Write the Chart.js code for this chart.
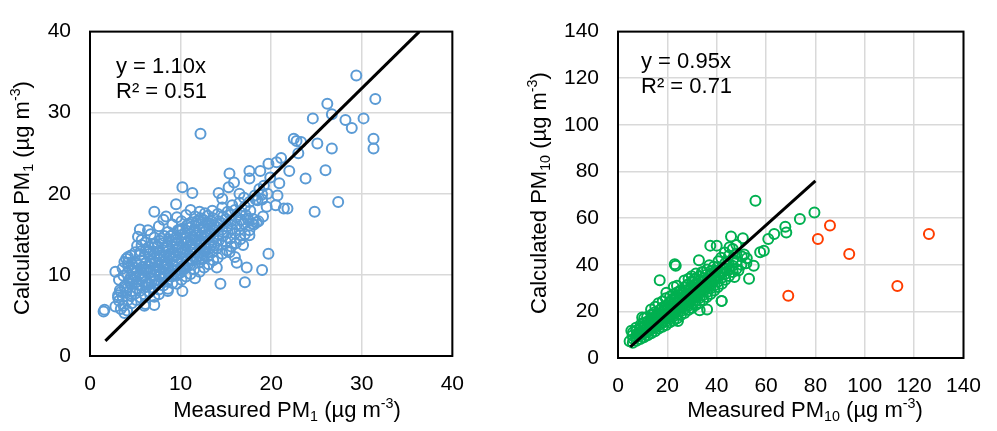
<!DOCTYPE html>
<html>
<head>
<meta charset="utf-8">
<script src="https://cdn.jsdelivr.net/npm/chart.js@4.4.1/dist/chart.umd.min.js"></script>
<style>
  body { margin: 0; background: #fff; }
  #wrap { position: relative; width: 997px; height: 431px; }
  .box { position: absolute; top: 0; }
</style>
</head>
<body>
<div id="wrap">
  <div class="box" style="left:0;width:480px;height:431px"><canvas id="pm1Chart" width="480" height="431"></canvas></div>
  <div class="box" style="left:490px;width:507px;height:431px"><canvas id="pm10Chart" width="507" height="431"></canvas></div>
</div>
<script>
// axis ranges [min, max, step]
const pm1Range = [0, 40, 10];
const pm10Range = [0, 140, 20];

// fitted lines (end points)
const pm1Fit = [[1.7, 1.87], [36.36, 40]];
const pm10Fit = [[5, 4.75], [80, 76]];

const pm1Equation = ['y = 1.10x', 'R² = 0.51'];
const pm10Equation = ['y = 0.95x', 'R² = 0.71'];

// measured vs calculated PM1
const pm1Points = [
  [29.4,34.6],[31.5,31.7],[26.2,31.1],[26.7,29.8],[24.6,29.3],[28.2,29.1],[30.2,29.3],[28.9,28.1],[31.3,26.8],[31.3,25.6],
  [25.1,26.2],[26.7,25.6],[22.5,26.8],[22.8,26.5],[23.3,26.4],[23.0,25.0],[26.0,22.9],[23.8,21.9],[22.0,22.8],[27.4,19.0],
  [24.8,17.8],[12.2,27.4],[21.1,24.4],[20.6,23.9],[19.7,23.7],[17.6,22.8],[15.4,22.5],[18.8,22.8],[20.9,21.3],[19.9,22.0],
  [17.6,21.9],[15.9,21.4],[15.3,20.8],[10.2,20.8],[11.3,20.1],[20.7,19.8],[19.6,20.0],[20.5,18.6],[21.4,18.2],[21.8,18.2],
  [19.5,18.4],[19.0,19.3],[18.3,19.3],[17.6,19.0],[16.5,20.0],[14.2,20.1],[14.6,19.4],[9.5,18.7],[7.1,17.8],[8.4,17.2],
  [19.7,12.6],[19.0,10.6],[17.3,10.9],[17.1,9.1],[14.4,8.9],[14.0,10.9],[16.2,11.5],[16.6,14.9],[17.6,14.9],[17.9,16.3],
  [17.4,17.0],[18.4,16.5],[15.4,12.8],[16.0,12.2],[16.9,13.7],[10.2,8.0],[8.6,8.0],[7.6,7.6],[7.1,6.3],[6.0,6.2],
  [1.6,5.7],[1.5,5.5],[2.8,6.1],[3.1,7.2],[2.8,10.4],[3.4,5.8],[3.8,5.3],[3.4,7.9],[4.2,12.2],[4.2,11.5],
  [5.5,15.6],[5.3,14.7],[6.4,15.5],[5.7,13.7],[5.6,12.9],
  [3.2,6.8],[3.3,8.1],[3.2,9.4],[3.1,7.5],
  [3.7,6.2],[3.6,7.3],[3.8,8.6],[3.7,9.9],[3.6,10.8],[3.8,11.6],
  [4.1,5.6],[4.2,6.9],[4.0,7.8],[4.1,8.4],[4.3,9.3],[4.1,10.2],[4.2,11.1],[4.0,12.0],
  [4.6,6.5],[4.5,7.4],[4.7,8.0],[4.6,8.9],[4.5,9.7],[4.7,10.6],[4.6,11.3],[4.5,12.4],
  [5.1,6.9],[5.0,7.7],[5.2,8.3],[5.1,9.1],[5.0,9.8],[5.2,10.4],[5.1,11.5],[5.0,12.8],[5.2,13.6],
  [5.6,7.2],[5.5,8.0],[5.7,8.7],[5.6,9.5],[5.5,10.1],[5.7,10.9],[5.6,11.8],[5.5,12.5],[5.7,14.3],
  [6.1,6.4],[6.0,7.6],[6.2,8.5],[6.1,9.2],[6.0,9.9],[6.2,10.7],[6.1,11.4],[6.0,12.2],[6.2,13.1],[6.1,14.0],
  [6.6,7.9],[6.5,8.8],[6.7,9.6],[6.6,10.3],[6.5,11.0],[6.7,11.7],[6.6,12.6],[6.5,13.4],[6.7,15.0],
  [7.1,7.3],[7.0,8.4],[7.2,9.3],[7.1,10.0],[7.0,10.8],[7.2,11.5],[7.1,12.1],[7.0,12.9],[7.2,13.8],[7.1,14.6],
  [7.6,8.2],[7.5,9.0],[7.7,9.8],[7.6,10.6],[7.5,11.2],[7.7,11.9],[7.6,12.7],[7.5,13.5],[7.7,14.2],[7.6,16.0],
  [8.1,8.7],[8.0,9.5],[8.2,10.2],[8.1,11.0],[8.0,11.6],[8.2,12.3],[8.1,13.0],[8.0,13.9],[8.2,14.8],[8.1,16.8],
  [8.6,8.3],[8.5,9.2],[8.7,10.0],[8.6,10.8],[8.5,11.5],[8.7,12.2],[8.6,12.9],[8.5,13.6],[8.7,14.4],[8.6,15.3],
  [9.1,9.0],[9.0,9.8],[9.2,10.6],[9.1,11.3],[9.0,12.0],[9.2,12.8],[9.1,13.5],[9.0,14.1],[9.2,15.0],[9.1,16.2],
  [9.6,8.9],[9.5,9.9],[9.7,10.7],[9.6,11.6],[9.5,12.4],[9.7,13.1],[9.6,13.8],[9.5,14.6],[9.7,15.5],[9.6,17.1],
  [10.1,9.4],[10.0,10.3],[10.2,11.1],[10.1,11.9],[10.0,12.6],[10.2,13.3],[10.1,14.0],[10.0,14.9],[10.2,15.7],[10.1,16.6],
  [10.6,9.8],[10.5,10.8],[10.7,11.7],[10.6,12.5],[10.5,13.2],[10.7,13.9],[10.6,14.5],[10.5,15.2],[10.7,16.1],[10.6,17.4],
  [11.1,10.1],[11.0,11.2],[11.2,12.0],[11.1,12.8],[11.0,13.6],[11.2,14.3],[11.1,15.0],[11.0,15.8],[11.2,16.5],[11.1,18.0],
  [11.6,9.6],[11.5,10.7],[11.7,11.9],[11.6,12.7],[11.5,13.4],[11.7,14.2],[11.6,14.9],[11.5,15.6],[11.7,16.4],[11.6,17.2],
  [12.1,10.4],[12.0,11.5],[12.2,12.4],[12.1,13.3],[12.0,14.1],[12.2,14.8],[12.1,15.5],[12.0,16.3],[12.2,17.0],[12.1,17.8],
  [12.6,10.9],[12.5,12.0],[12.7,12.9],[12.6,13.7],[12.5,14.5],[12.7,15.3],[12.6,16.0],[12.5,16.8],[12.7,17.6],
  [13.1,11.3],[13.0,12.3],[13.2,13.2],[13.1,14.0],[13.0,14.9],[13.2,15.7],[13.1,16.4],[13.0,17.3],
  [13.6,11.8],[13.5,12.8],[13.7,13.6],[13.6,14.6],[13.5,15.4],[13.7,16.1],[13.6,17.0],[13.5,17.9],
  [14.1,12.1],[14.0,13.3],[14.2,14.2],[14.1,15.0],[14.0,15.9],[14.2,16.6],[14.1,17.5],
  [14.6,12.6],[14.5,13.7],[14.7,14.8],[14.6,15.6],[14.5,16.4],[14.7,17.2],[14.6,18.3],
  [15.1,13.0],[15.0,14.1],[15.2,15.2],[15.1,16.0],[15.0,16.9],[15.2,17.8],
  [15.6,13.5],[15.5,14.5],[15.7,15.7],[15.6,16.6],[15.5,17.4],[15.7,18.6],
  [16.1,13.9],[16.0,15.1],[16.2,16.2],[16.1,17.1],[16.0,18.0],
  [16.6,14.4],[16.5,15.6],[16.7,16.8],[16.6,17.7],[16.5,18.9],
  [17.1,15.0],[17.0,16.3],[17.2,17.4],[17.1,18.4],[17.0,19.5],
  [17.6,15.5],[17.5,16.7],[17.7,17.9],
  [18.1,16.2],[18.0,16.9],[18.2,19.8],
  [18.6,16.6],[18.5,19.2],[18.7,20.6],
  [19.1,17.2],[19.0,19.9],[19.2,21.0],
  [6.3,10.4],[6.8,11.3],[7.3,10.5],[7.8,12.4],[8.3,11.3],[8.8,12.6],[9.3,12.3],[9.8,13.4],[10.3,12.9],[10.8,14.2],
  [11.3,13.1],[11.8,15.3],[12.3,13.8],[12.8,14.9],[13.3,15.2],[6.4,12.9],[6.9,13.8],[7.4,12.3],[7.9,14.5],[8.4,13.3],
  [8.9,14.8],[9.4,14.3],[9.9,15.6],[10.4,14.6],[10.9,16.3],[11.4,14.6],[11.9,16.7],[12.4,15.9],[12.9,16.4],[13.4,16.6],
  [5.8,9.9],[6.3,8.9],[6.8,9.2],[7.3,8.9],[7.8,10.2],[8.3,9.8],[8.8,10.4],[9.3,11.1],[9.8,10.2],[10.3,10.9],
  [10.8,11.3],[11.3,11.8],[11.8,12.2],[12.3,11.9],[12.8,13.3],[13.3,13.6],[4.9,10.9],[5.4,11.2],[5.9,10.6],[4.4,9.0],
  [4.8,9.4],[5.3,8.8]
];

// measured vs calculated PM10
const pm10Points = [
  [55.7,67.4],[79.6,62.4],[73.7,59.6],[67.8,56.3],[68.2,53.8],[63.3,53.2],[60.9,51.0],[59.1,46.0],[57.6,45.4],[50.6,51.4],
  [45.8,52.1],[37.4,48.2],[40.0,48.2],[53.1,34.0],[55.0,39.6],[51.1,44.4],[47.2,34.7],[48.8,37.5],[42.0,24.5],[33.1,20.5],
  [36.1,20.8],[24.3,15.9],[16.9,33.3],[23.0,40.2],[23.4,39.6],[32.8,41.9],[4.7,7.2],[5.4,11.7],[9.8,17.4],
  [6.0,6.5],[6.2,8.2],[5.9,9.6],[6.1,11.0],
  [7.5,7.4],[7.4,8.9],[7.6,10.3],[7.5,11.8],[7.3,13.0],
  [9.0,8.1],[9.1,9.7],[8.9,11.2],[9.0,12.6],[9.2,14.3],
  [10.5,8.9],[10.4,10.4],[10.6,11.9],[10.5,13.5],[10.3,15.0],[10.6,17.0],
  [12.0,9.8],[12.1,11.3],[11.9,12.8],[12.0,14.2],[12.2,15.9],[11.8,17.6],
  [13.5,10.6],[13.4,12.2],[13.6,13.8],[13.5,15.3],[13.3,16.8],[13.7,18.7],[13.4,20.8],
  [15.0,11.5],[15.1,13.1],[14.9,14.6],[15.0,16.2],[15.2,17.9],[14.8,19.5],[15.1,22.0],
  [16.5,12.6],[16.4,14.0],[16.6,15.7],[16.5,17.3],[16.3,18.8],[16.7,20.4],[16.4,23.5],
  [18.0,13.4],[18.1,15.1],[17.9,16.6],[18.0,18.2],[18.2,19.9],[17.8,21.6],[18.1,24.3],
  [19.5,14.2],[19.4,15.8],[19.6,17.5],[19.5,19.2],[19.3,20.8],[19.7,22.5],[19.4,25.6],[19.6,28.0],
  [21.0,15.3],[21.1,16.9],[20.9,18.6],[21.0,20.3],[21.2,22.0],[20.8,23.8],[21.1,26.4],
  [22.5,16.1],[22.4,17.8],[22.6,19.5],[22.5,21.2],[22.3,22.9],[22.7,24.7],[22.4,27.3],[22.6,30.5],
  [24.0,17.0],[24.1,18.9],[23.9,20.6],[24.0,22.4],[24.2,24.1],[23.8,25.9],[24.1,28.2],[23.9,31.0],
  [25.5,18.4],[25.4,20.1],[25.6,21.8],[25.5,23.5],[25.3,25.3],[25.7,27.0],[25.4,29.1],
  [27.0,19.3],[27.1,21.1],[26.9,22.8],[27.0,24.6],[27.2,26.4],[26.8,28.1],[27.1,30.3],[26.9,33.2],
  [28.5,20.6],[28.4,22.3],[28.6,24.0],[28.5,25.8],[28.3,27.6],[28.7,29.4],[28.4,31.5],[28.6,34.0],
  [30.0,21.4],[30.1,23.4],[29.9,25.2],[30.0,27.0],[30.2,28.8],[29.8,30.6],[30.1,32.5],[29.9,35.1],
  [31.5,22.7],[31.4,24.5],[31.6,26.4],[31.5,28.2],[31.3,30.0],[31.7,31.9],[31.4,33.8],[31.6,36.2],
  [33.0,23.6],[33.1,25.8],[32.9,27.6],[33.0,29.5],[33.2,31.3],[32.8,33.0],[33.1,35.0],
  [34.5,24.9],[34.4,26.9],[34.6,28.9],[34.5,30.7],[34.3,32.6],[34.7,34.3],[34.4,36.9],
  [36.0,26.2],[36.1,28.3],[35.9,30.2],[36.0,32.0],[36.2,33.8],[35.8,35.7],[36.1,38.0],
  [37.5,27.5],[37.4,29.8],[37.6,31.6],[37.5,33.5],[37.3,35.2],[37.7,37.3],
  [39.0,28.9],[39.1,31.2],[38.9,33.1],[39.0,35.0],[39.2,37.0],[38.8,39.1],
  [40.5,30.4],[40.4,32.7],[40.6,34.8],[40.5,36.7],[40.3,38.9],[40.7,41.5],
  [42.0,24.4],[42.1,31.8],[41.9,34.3],[42.0,36.5],[42.2,38.6],[41.8,43.0],
  [43.5,33.6],[43.4,36.0],[43.6,38.3],[43.5,40.7],[43.3,45.2],
  [45.0,35.2],[45.1,37.8],[44.9,40.4],[45.0,44.0],[45.2,47.5],
  [46.5,36.9],[46.4,39.6],[46.6,42.1],[46.5,46.8],
  [48.0,38.2],[48.1,41.3],[47.9,44.7],[48.0,48.5],
  [50.0,40.0],[50.2,43.5],[52.0,40.6],[52.2,42.8],
  [11.0,13.8],[14.0,16.0],[17.0,18.5],[20.0,21.3],[23.0,23.8],[26.0,26.2],[29.0,28.7],[32.0,31.2],[35.0,33.5],[38.0,36.2],
  [12.5,12.0],[15.5,15.0],[18.5,17.0],[21.5,19.5],[24.5,22.0],[27.5,24.8],[30.5,27.2],[33.5,29.8],[36.5,32.5],[39.5,34.8],
  [13.0,16.3],[16.0,19.0],[19.0,22.0],[22.0,25.0],[25.0,28.4],[28.0,31.2],[31.0,34.0],[34.0,36.8],[37.0,39.8]
];

// PM10 points left out of the fit (red)
const pm10Excluded = [[69.0,26.7],[81.0,51.0],[85.9,56.8],[93.7,44.6],[113.2,30.9],[126.0,53.2]];

const FONT = 'Liberation Sans, Arial, sans-serif';

function toXY(list) {
  return list.map(p => ({x: p[0], y: p[1]}));
}

// draws text made of pieces, some of them sub/superscript
function drawRich(ctx, segs, cx, cy, size, vertical) {
  ctx.save();
  ctx.translate(cx, cy);
  if (vertical) ctx.rotate(-Math.PI / 2);
  ctx.fillStyle = '#000';
  ctx.textBaseline = 'middle';
  ctx.textAlign = 'left';
  let total = 0;
  for (const s of segs) {
    ctx.font = (s[1] ? size * 0.65 : size) + 'px ' + FONT;
    total += ctx.measureText(s[0]).width;
  }
  let x = -total / 2;
  for (const s of segs) {
    const sz = s[1] ? size * 0.65 : size;
    ctx.font = sz + 'px ' + FONT;
    let dy = 0;
    if (s[1] === -1) dy = size * 0.28;
    if (s[1] === 1) dy = -size * 0.3;
    ctx.fillText(s[0], x, dy);
    x += ctx.measureText(s[0]).width;
  }
  ctx.restore();
}

const framePlugin = {
  id: 'frameAndText',
  afterDraw(chart, args, opts) {
    const {ctx, chartArea} = chart;
    ctx.save();
    ctx.strokeStyle = '#000';
    ctx.lineWidth = 2;
    ctx.strokeRect(chartArea.left, chartArea.top, chartArea.right - chartArea.left, chartArea.bottom - chartArea.top);
    ctx.restore();

    drawRich(ctx, opts.xTitle.segs, opts.xTitle.cx, opts.xTitle.cy, 22, false);
    drawRich(ctx, opts.yTitle.segs, opts.yTitle.cx, opts.yTitle.cy, 22, true);

    ctx.save();
    ctx.fillStyle = '#000';
    ctx.font = '22px ' + FONT;
    ctx.textBaseline = 'middle';
    ctx.textAlign = 'left';
    opts.equation.forEach((line, i) => {
      ctx.fillText(line, opts.eqX, opts.eqY + i * 24.5);
    });
    ctx.restore();
  }
};

function makeChart(id, cfg) {
  const datasets = [
    {
      type: 'line',
      data: toXY(cfg.fit),
      borderColor: '#000',
      borderWidth: 3,
      pointRadius: 0,
      fill: false
    },
    {
      type: 'scatter',
      data: toXY(cfg.points),
      pointStyle: 'circle',
      pointRadius: 5,
      borderWidth: 2,
      borderColor: cfg.color,
      backgroundColor: 'rgba(0,0,0,0)'
    }
  ];
  if (cfg.extra) {
    datasets.push({
      type: 'scatter',
      data: toXY(cfg.extra),
      pointStyle: 'circle',
      pointRadius: 5,
      borderWidth: 2,
      borderColor: cfg.extraColor,
      backgroundColor: 'rgba(0,0,0,0)'
    });
  }
  const tickFont = {family: FONT, size: 21};
  return new Chart(document.getElementById(id).getContext('2d'), {
    type: 'scatter',
    data: {datasets: datasets},
    options: {
      responsive: false,
      animation: false,
      layout: {padding: {left: 0, top: cfg.top, right: cfg.right, bottom: 0}},
      plugins: {
        legend: {display: false},
        tooltip: {enabled: false},
        frameAndText: {
          xTitle: cfg.xTitle,
          yTitle: cfg.yTitle,
          equation: cfg.equation,
          eqX: cfg.eqX,
          eqY: cfg.eqY
        }
      },
      scales: {
        x: {
          type: 'linear',
          min: cfg.range[0], max: cfg.range[1],
          ticks: {stepSize: cfg.range[2], color: '#000', font: tickFont, padding: 16},
          grid: {color: '#D9D9D9', lineWidth: 1.5, drawTicks: false},
          border: {display: false},
          afterFit: s => { s.height = cfg.xHeight; }
        },
        y: {
          type: 'linear',
          min: cfg.range[0], max: cfg.range[1],
          ticks: {stepSize: cfg.range[2], color: '#000', font: tickFont, padding: 19},
          grid: {color: '#D9D9D9', lineWidth: 1.5, drawTicks: false},
          border: {display: false},
          afterFit: s => { s.width = cfg.yWidth; }
        }
      }
    },
    plugins: [framePlugin]
  });
}

makeChart('pm1Chart', {
  fit: pm1Fit,
  points: pm1Points,
  color: '#5B9BD5',
  range: pm1Range,
  top: 21, right: 14, xHeight: 75, yWidth: 90,
  xTitle: {segs: [['Measured PM', 0], ['1', -1], [' (µg m', 0], ['-3', 1], [')', 0]], cx: 287, cy: 411},
  yTitle: {segs: [['Calculated PM', 0], ['1', -1], [' (µg m', 0], ['-3', 1], [')', 0]], cx: 23, cy: 198},
  equation: pm1Equation,
  eqX: 116, eqY: 67
});

makeChart('pm10Chart', {
  fit: pm10Fit,
  points: pm10Points,
  extra: pm10Excluded,
  color: '#00B050',
  extraColor: '#FF3D00',
  range: pm10Range,
  top: 23, right: 22, xHeight: 73, yWidth: 128,
  xTitle: {segs: [['Measured PM', 0], ['10', -1], [' (µg m', 0], ['-3', 1], [')', 0]], cx: 315, cy: 411},
  yTitle: {segs: [['Calculated PM', 0], ['10', -1], [' (µg m', 0], ['-3', 1], [')', 0]], cx: 50, cy: 193},
  equation: pm10Equation,
  eqX: 151, eqY: 62
});
</script>
</body>
</html>
